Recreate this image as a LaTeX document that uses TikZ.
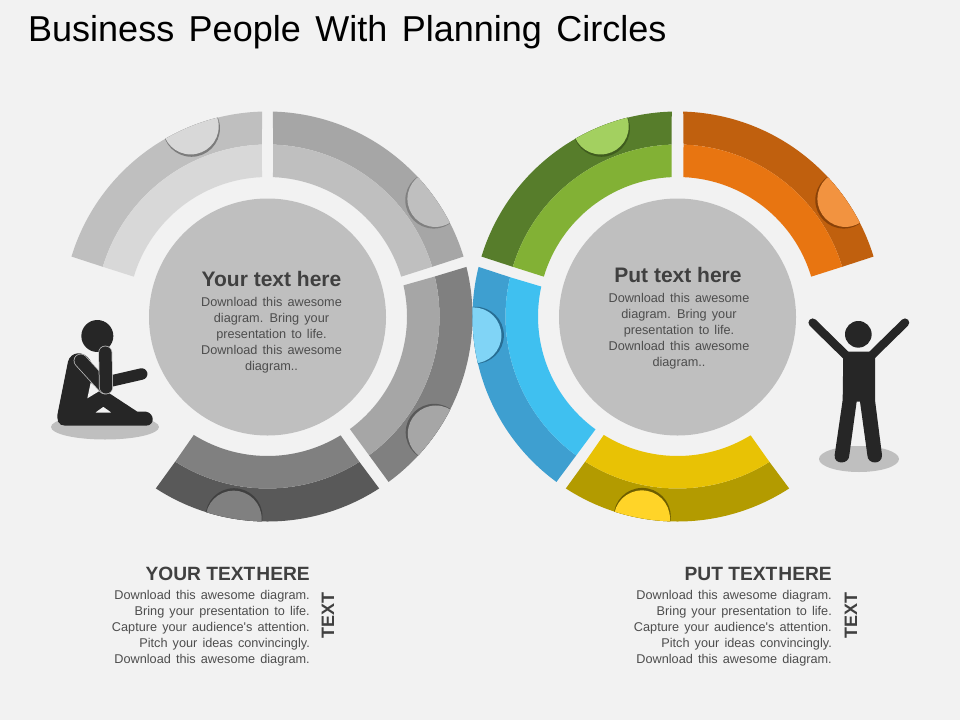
\documentclass[tikz,border=0pt]{standalone}
\usepackage{fontspec}
\setmainfont{Liberation Sans}
\newfontfamily\bodyfont[WordSpace=1.6]{Liberation Sans}
\newfontfamily\titlefont[WordSpace=1.45]{Liberation Sans}
\definecolor{bgc}{HTML}{F2F2F2}
\definecolor{discc}{HTML}{BFBFBF}
\definecolor{figc}{HTML}{262626}
\definecolor{headc}{HTML}{404040}
\definecolor{bodyc}{HTML}{4D4D4D}
\newcommand{\ringseg}[9]{%
  % #1,#2 outer angles; #3,#4 inner angles; #5 outer col; #6 inner col; #7 bump angle; #8 bump col; #9 shadow col
  \pgfmathsetmacro{\ma}{(#1+#3)/2}\pgfmathsetmacro{\mb}{(#2+#4)/2}%
  \fill[#5] (#1:205pt) arc[start angle=#1,end angle=#2,radius=205pt] -- (\mb:172pt) arc[start angle=\mb,end angle=\ma,radius=172pt] -- cycle;
  \fill[#6] (\ma:172pt) arc[start angle=\ma,end angle=\mb,radius=172pt] -- (#4:139.5pt) arc[start angle=#4,end angle=#3,radius=139.5pt] -- cycle;
  \begin{scope}
    \clip (0,0) circle[radius=205pt];
    \fill[#9] (#7:203pt) circle[radius=28.5pt];
    \fill[#8] (#7:205pt) circle[radius=28pt];
  \end{scope}
}
\tikzset{
  discnode/.style={circle,fill=discc,minimum size=237pt,inner sep=0pt},
  ground/.style={fill=discc},
  person/.style={fill=figc},
  title/.style={font=\titlefont\fontsize{36}{42}\selectfont,text=black,anchor=base west,inner sep=0pt},
  dischead/.style={font=\bfseries\fontsize{21}{24}\selectfont,text=headc,anchor=base,inner sep=0pt},
  discbody/.style={font=\bodyfont\fontsize{12.7}{16}\selectfont,text=bodyc,align=center,anchor=north,inner sep=0pt},
  blockhead/.style={font=\bfseries\fontsize{19.2}{22}\selectfont,text=headc,anchor=base east,inner sep=0pt},
  blockbody/.style={font=\bodyfont\fontsize{12.7}{16}\selectfont,text=bodyc,align=right,anchor=north east,inner sep=0pt},
  sidelabel/.style={font=\bfseries\fontsize{18}{22}\selectfont,text=headc,rotate=90,inner sep=0pt},
}
\begin{document}
\begin{tikzpicture}[x=1pt,y=-1pt]
\useasboundingbox (0,0) rectangle (960,720);
\fill[bgc] (0,0) rectangle (960,720);
\node[title] (maintitle) at (28,41) {Business People With Planning Circles};

% left ring
\begin{scope}[shift={(267.5,316.5)},y=1pt]
  \ringseg{91.5}{163}{92.25}{163.4}{discc}{discc!60!white}{112}{discc!60!white}{discc!65!black}
  \ringseg{88.5}{17}{87.75}{16.6}{black!35}{discc}{35}{discc}{black!50}
  \ringseg{14}{-53.8}{12.9}{-53.8}{black!50}{black!35}{-34.8}{black!35}{black!65}
  \ringseg{-123}{-57}{-121.9}{-58.4}{black!65}{black!50}{260.5}{black!50}{black!75}
\end{scope}
% right ring
\begin{scope}[shift={(677.5,316.5)},y=1pt]
  \definecolor{gO}{HTML}{577D2B}\definecolor{gI}{HTML}{82B135}\definecolor{gB}{HTML}{A3D060}\definecolor{gS}{HTML}{3F5C1E}
  \definecolor{oO}{HTML}{C0600E}\definecolor{oI}{HTML}{E87511}\definecolor{oB}{HTML}{F29340}\definecolor{oS}{HTML}{8A4208}
  \definecolor{bO}{HTML}{3E9FD0}\definecolor{bI}{HTML}{3FC0F0}\definecolor{bB}{HTML}{80D4F6}\definecolor{bS}{HTML}{276E94}
  \definecolor{yO}{HTML}{B39B00}\definecolor{yI}{HTML}{E8C205}\definecolor{yB}{HTML}{FFD428}\definecolor{yS}{HTML}{6E5E00}
  \ringseg{91.6}{163}{92.4}{163.4}{gO}{gI}{112}{gB}{gS}
  \ringseg{88.4}{17}{87.6}{16.6}{oO}{oI}{35}{oB}{oS}
  \ringseg{166}{233.8}{167.6}{234}{bO}{bI}{185.3}{bB}{bS}
  \ringseg{-123}{-57}{-121.9}{-58.4}{yO}{yI}{260}{yB}{yS}
\end{scope}

\node[discnode] (leftdisc) at (267.5,317) {};
\node[discnode] (rightdisc) at (677.5,317) {};
\node[dischead] (lefthead) at (271.5,286.5) {Your text here};
\node[discbody] (leftbody) at (271.5,297) {Download this awesome\\diagram. Bring your\\presentation to life.\\Download this awesome\\diagram..};
\node[dischead] (righthead) at (678,282.5) {Put text here};
\node[discbody] (rightbody) at (679,293) {Download this awesome\\diagram. Bring your\\presentation to life.\\Download this awesome\\diagram..};

% bottom blocks
\node[blockhead] (blockleft) at (310,580) {YOUR TEXT\hspace{1pt}HERE};
\node[blockbody] (blockleftb) at (310,590) {Download this awesome diagram.\\Bring your presentation to life.\\Capture your audience's attention.\\Pitch your ideas convincingly.\\Download this awesome diagram.};
\node[sidelabel] (sideleft) at (328,615.5) {TEXT};
\node[blockhead] (blockright) at (832,580) {PUT TEXT\hspace{1pt}HERE};
\node[blockbody] (blockrightb) at (832,590) {Download this awesome diagram.\\Bring your presentation to life.\\Capture your audience's attention.\\Pitch your ideas convincingly.\\Download this awesome diagram.};
\node[sidelabel] (sideright) at (851,615.5) {TEXT};

% seated person
\fill[ground] (105,427) ellipse[x radius=54pt,y radius=12.5pt];
\begin{scope}[shift={(40,300)},x=0.3333pt,y=-0.3333pt]
  \fill[person] (172,108) circle[radius=48pt*0.3333];
  \draw[figc,line width=11.5pt,line cap=round] (205,245) -- (305,222);
  \fill[person,even odd rule] (84,185) .. controls (92,155) and (130,150) .. (150,180)
     -- (185,270) -- (205,278) -- (292,335) -- (318,335)
     .. controls (345,340) and (345,377) .. (318,377)
     -- (75,377) .. controls (55,377) and (48,360) .. (54,335) -- cycle
     (165,338) -- (215,338) -- (190,320) -- cycle;
  \fill[bgc] (152,248) -- (180,272) -- (142,295) -- cycle;
  \draw[discc,line width=14pt,line cap=round] (122,182) -- (195,262);
  \draw[figc,line width=12.5pt,line cap=round] (122,182) -- (195,262);
  \draw[discc,line width=14pt,line cap=round] (196,158) -- (198,262);
  \draw[figc,line width=12.5pt,line cap=round] (196,158) -- (198,262);
\end{scope}

% standing person
\fill[ground] (859,459) ellipse[x radius=40pt,y radius=13pt];
\begin{scope}[shift={(790,300)},x=0.3333pt,y=-0.3333pt]
  \fill[person] (205,103) circle[radius=40pt*0.3333];
  \draw[figc,line width=8.5pt,line cap=round] (68,68) -- (170,168);
  \draw[figc,line width=8.5pt,line cap=round] (345,68) -- (243,168);
  \fill[person] (160,155) -- (255,155) -- (255,300) -- (276,465)
     .. controls (278,495) and (232,495) .. (232,465)
     -- (210,305) -- (200,305) -- (178,465)
     .. controls (178,495) and (130,495) .. (134,465)
     -- (158,300) -- cycle;
\end{scope}
\end{tikzpicture}
\end{document}
